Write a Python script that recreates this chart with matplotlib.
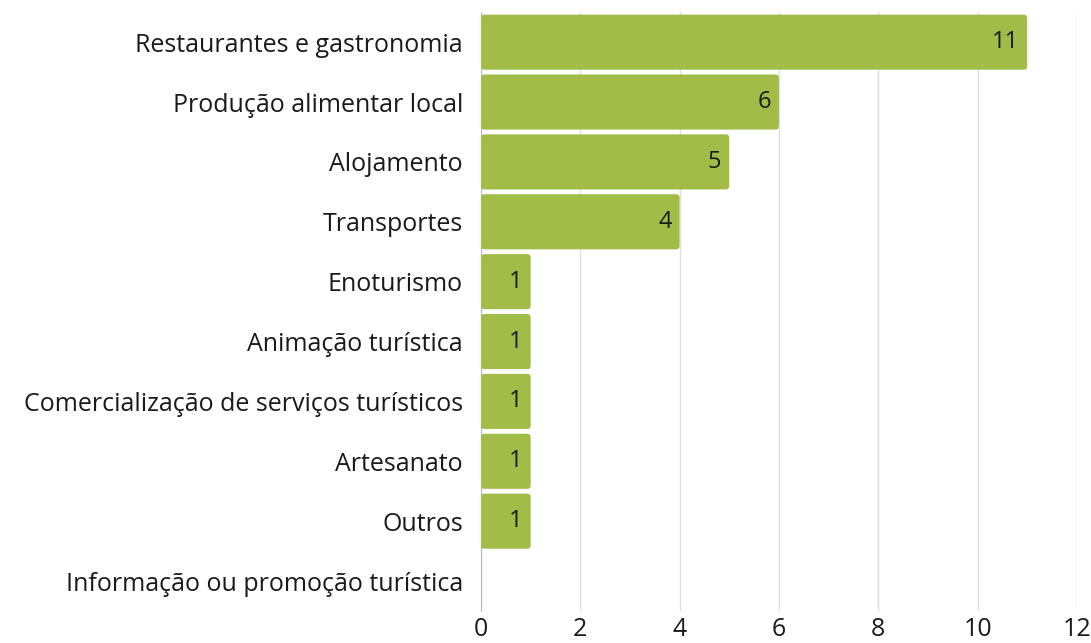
import matplotlib
matplotlib.use("Agg")
import matplotlib.pyplot as plt
from matplotlib.patches import FancyBboxPatch

categories = [
    "Restaurantes e gastronomia",
    "Produção alimentar local",
    "Alojamento",
    "Transportes",
    "Enoturismo",
    "Animação turística",
    "Comercialização de serviços turísticos",
    "Artesanato",
    "Outros",
    "Informação ou promoção turística",
]
values = [11, 6, 5, 4, 1, 1, 1, 1, 1, 0]
xticks = [0, 2, 4, 6, 8, 10, 12]

plt.rcParams['font.family'] = ['Open Sans', 'DejaVu Sans']

fig = plt.figure(figsize=(10.91, 6.43), dpi=100)
ax = fig.add_axes([0.4409, 0.0498, 0.5461, 0.9312])

ypos = list(range(len(categories)))
bars = ax.barh(ypos, values, height=0.92, color="#A2BD47", zorder=3)
for b in bars:
    x, y, w, h = b.get_x(), b.get_y(), b.get_width(), b.get_height()
    b.remove()
    if w <= 0:
        continue
    p = FancyBboxPatch((x, y), w, h, boxstyle="round,pad=0,rounding_size=0.07",
                       mutation_aspect=0.84, facecolor="#A2BD47",
                       edgecolor="none", zorder=3)
    ax.add_patch(p)

for y, v in zip(ypos, values):
    if v > 0:
        ax.text(v - 0.16, y, str(v), ha="right", va="center", fontsize=17,
                color="#1a1a1a", zorder=4)

ax.set_xlim(0, 12)
ax.set_ylim(len(categories) - 0.5, -0.5)
ax.set_yticks(ypos)
ax.set_yticklabels(categories, fontsize=18, color="#1a1a1a")
ax.set_xticks(xticks)
ax.set_xticklabels([str(t) for t in xticks], fontsize=18, color="#1a1a1a")
ax.tick_params(axis="both", length=0)
ax.tick_params(axis="y", pad=13)
ax.tick_params(axis="x", pad=4)
ax.grid(axis="x", color="#e0e0e0", linewidth=1, zorder=0)
for s in ["top", "right", "bottom"]:
    ax.spines[s].set_visible(False)
ax.spines["left"].set_color("#b8b8b8")
ax.spines["left"].set_zorder(2)

fig.savefig("out.png", dpi=100)
